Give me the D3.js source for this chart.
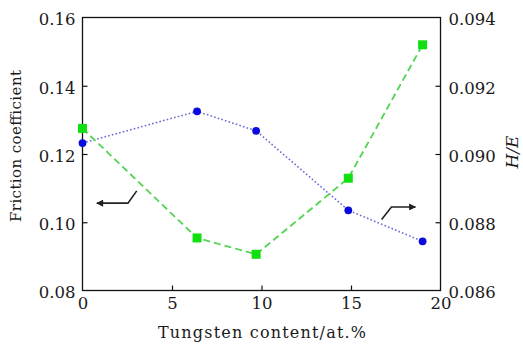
<!DOCTYPE html>
<html><head><meta charset="utf-8">
<script src="https://cdn.jsdelivr.net/npm/d3@7"></script>
<style>
body{margin:0;background:#fff;}
text{font-family:"DejaVu Serif",serif;fill:#1a1a1a;}
</style></head>
<body><svg id="c" width="523" height="347"></svg>
<script>
const tungsten = [0, 6.4, 9.7, 14.85, 19];
const friction = [0.1275, 0.0954, 0.0906, 0.1129, 0.1520];
const hOverE = [0.09032, 0.09125, 0.09068, 0.08835, 0.08744];
const xTicks = [0, 5, 10, 15, 20];
const yLeftTicks = [0.08, 0.10, 0.12, 0.14, 0.16];
const yRightTicks = [0.086, 0.088, 0.090, 0.092, 0.094];

const svg = d3.select("#c");
const L = 82.5, R = 440.5, T = 17.5, B = 290.5;
const x = d3.scaleLinear().domain([0, 20]).range([L, R]);
const yL = d3.scaleLinear().domain([0.08, 0.16]).range([B, T]);
const yR = d3.scaleLinear().domain([0.086, 0.094]).range([B, T]);

// frame
svg.append("rect").attr("x", L).attr("y", T).attr("width", R - L).attr("height", B - T)
  .attr("fill", "none").attr("stroke", "#111").attr("stroke-width", 1.3);

const fmt2 = d3.format(".2f"), fmt3 = d3.format(".3f");
const tk = 5;
const gx = svg.append("g").attr("transform", `translate(0,${B})`)
  .call(d3.axisBottom(x).tickValues(xTicks).tickSize(-tk).tickPadding(9).tickFormat(d3.format("d")));
const gl = svg.append("g").attr("transform", `translate(${L},0)`)
  .call(d3.axisLeft(yL).tickValues(yLeftTicks).tickSize(-tk).tickPadding(7).tickFormat(fmt2));
const gr = svg.append("g").attr("transform", `translate(${R},0)`)
  .call(d3.axisRight(yR).tickValues(yRightTicks).tickSize(-tk).tickPadding(8).tickFormat(fmt3));
[gx, gl, gr].forEach(g => {
  g.select(".domain").remove();
  g.selectAll("line").attr("stroke", "#111").attr("stroke-width", 1.2);
  g.selectAll("text").style("font-family", '"DejaVu Serif",serif').style("font-size", "16.5px").attr("fill", "#1a1a1a");
});
gx.selectAll("text").attr("dy", "0.6em");
gl.selectAll("text").attr("dy", "0.45em");
gr.selectAll("text").attr("dy", "0.45em");
gx.selectAll(".tick").filter(d => d === 0 || d === 20).select("line").remove();
gl.selectAll(".tick").filter(d => d === 0.08 || d === 0.16).select("line").remove();
gr.selectAll(".tick").filter(d => d === 0.086 || d === 0.094).select("line").remove();

// axis titles
svg.append("text").attr("x", 262).attr("y", 338).attr("text-anchor", "middle")
  .style("font-size", "16px").attr("textLength", 208).attr("lengthAdjust", "spacing")
  .text("Tungsten content/at.%");
svg.append("text").attr("transform", `translate(21,146) rotate(-90)`).attr("text-anchor", "middle")
  .style("font-size", "15px").attr("textLength", 152).attr("lengthAdjust", "spacing")
  .text("Friction coefficient");
svg.append("text").attr("transform", `translate(518,152) rotate(-90)`).attr("text-anchor", "middle")
  .style("font-size", "17px").style("font-style", "italic").text("H/E");

const data = tungsten.map((t, i) => ({t, f: friction[i], h: hOverE[i]}));

svg.append("path").datum(data)
  .attr("d", d3.line().x(d => x(d.t)).y(d => yR(d.h)))
  .attr("fill", "none").attr("stroke", "#6b6bd6").attr("stroke-width", 1.6)
  .attr("stroke-dasharray", "1.6,2.2");
svg.append("path").datum(data)
  .attr("d", d3.line().x(d => x(d.t)).y(d => yL(d.f)))
  .attr("fill", "none").attr("stroke", "#52d452").attr("stroke-width", 1.8)
  .attr("stroke-dasharray", "7,4");

svg.selectAll(".sq").data(data).enter().append("rect")
  .attr("x", d => x(d.t) - 4.5).attr("y", d => yL(d.f) - 4.5)
  .attr("width", 9).attr("height", 9).attr("fill", "#10e010");
svg.selectAll(".ci").data(data).enter().append("circle")
  .attr("cx", d => x(d.t)).attr("cy", d => yR(d.h)).attr("r", 3.9).attr("fill", "#0a0ae0");

// arrows (in data units)
const defs = svg.append("defs");
defs.append("marker").attr("id", "ah").attr("viewBox", "0 0 10 10").attr("refX", 9).attr("refY", 5)
  .attr("markerWidth", 9).attr("markerHeight", 7).attr("markerUnits", "userSpaceOnUse").attr("orient", "auto")
  .append("path").attr("d", "M0,0 L10,5 L0,10 Z").attr("fill", "#222");
const arrowLeft = [[3.03, 0.1092], [2.54, 0.1056], [0.8, 0.1056]];
const arrowRight = [[16.71, 0.08808], [17.26, 0.088447], [18.6, 0.088447]];
svg.append("path").datum(arrowLeft)
  .attr("d", d3.line().x(d => x(d[0])).y(d => yL(d[1])))
  .attr("fill", "none").attr("stroke", "#222").attr("stroke-width", 1.6).attr("marker-end", "url(#ah)");
svg.append("path").datum(arrowRight)
  .attr("d", d3.line().x(d => x(d[0])).y(d => yR(d[1])))
  .attr("fill", "none").attr("stroke", "#222").attr("stroke-width", 1.6).attr("marker-end", "url(#ah)");
</script></body></html>
